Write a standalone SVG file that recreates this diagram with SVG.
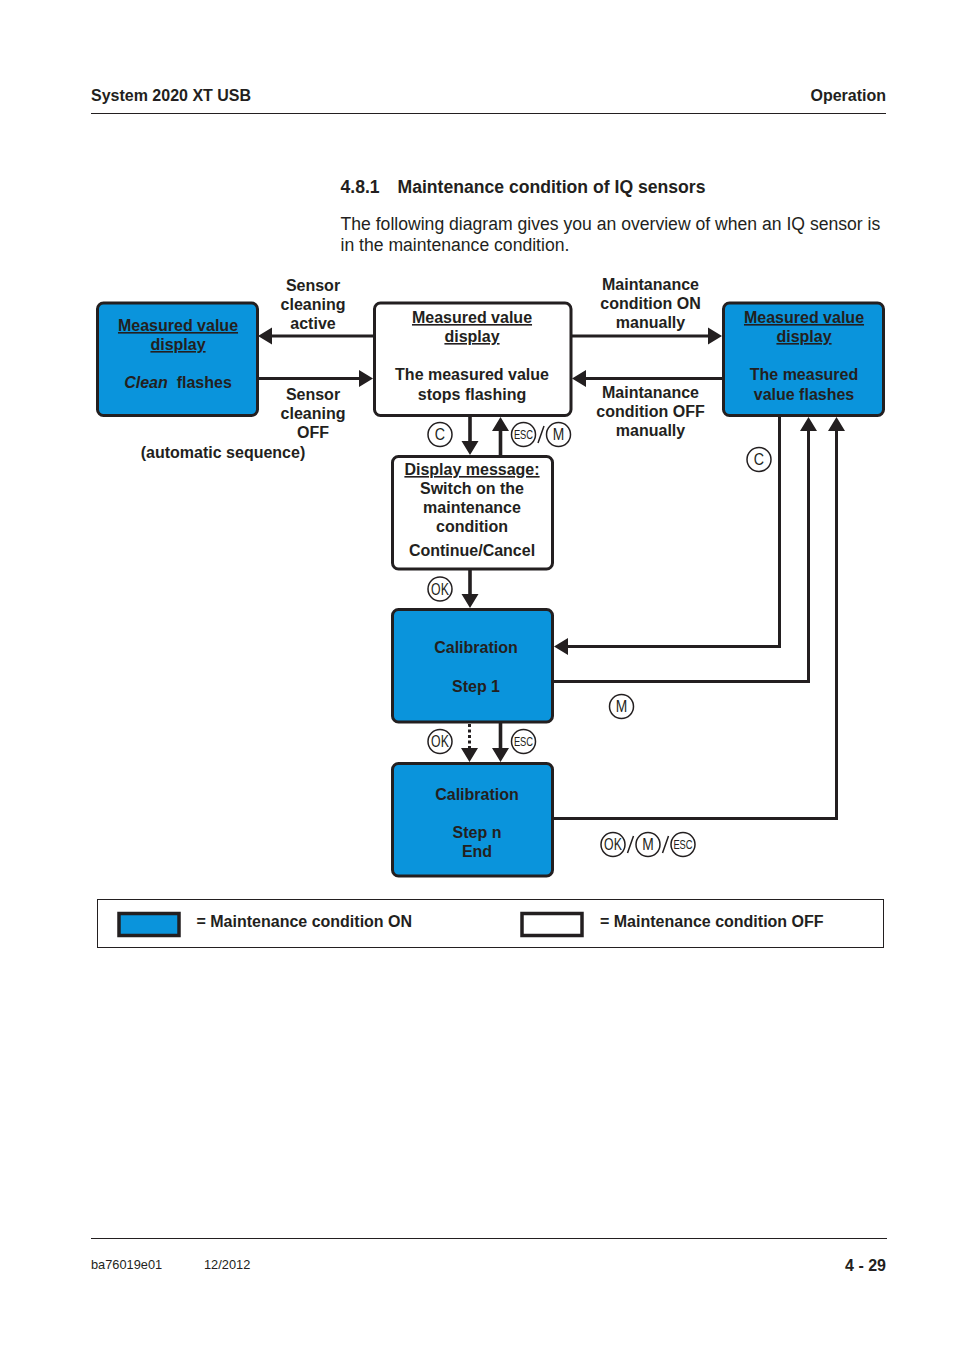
<svg xmlns="http://www.w3.org/2000/svg" width="954" height="1350" viewBox="0 0 954 1350">
<style>
text{font-family:"Liberation Sans",Arial,sans-serif;fill:#231f20}
.b{font-weight:700;font-size:16px}
.m{text-anchor:middle}
.u{text-decoration:underline}
.box{stroke:#231f20;stroke-width:3;}
.sw{stroke:#231f20;stroke-width:3.500}
.on{fill:#0a94dc}.off{fill:#fff}
.c{fill:none;stroke:#231f20;stroke-width:3}
.v{fill:none;stroke:#231f20;stroke-width:3.600}
.h{fill:#231f20}
.k{fill:#fff;stroke:#231f20;stroke-width:1.500}
.kt{font-size:15px;text-anchor:middle;font-weight:400}
.ke{font-size:12px;text-anchor:middle;font-weight:400}
.s{fill:none;stroke:#231f20;stroke-width:1.500}
</style>
<defs>
<g id="kC"><circle class="k" r="12"/><text class="kt" transform="translate(0 5.500) scale(.95 1.15)">C</text></g>
<g id="kM"><circle class="k" r="12"/><text class="kt" transform="translate(0 5.500) scale(.92 1.15)">M</text></g>
<g id="kO"><circle class="k" r="12"/><text class="kt" transform="translate(0 5.500) scale(.82 1.1)">OK</text></g>
<g id="kE"><circle class="k" r="12"/><text class="ke" transform="translate(0 4.500) scale(.78 1.1)">ESC</text></g>
</defs>
<g id="page">
<text x="91" y="101" class="b">System 2020 XT USB</text>
<text x="886" y="101" class="b" text-anchor="end">Operation</text>
<path d="M91 113.500H886M91 1238.500H887" fill="none" stroke="#231f20" stroke-width="1"/>
<text x="340.500" y="193" class="b" style="font-size:17.600px">4.8.1</text>
<text x="397.500" y="193" class="b" style="font-size:17.600px">Maintenance condition of IQ sensors</text>
<text x="340.500" y="230" font-size="17.600">The following diagram gives you an overview of when an IQ sensor is</text>
<text x="340.500" y="251" font-size="17.600">in the maintenance condition.</text>
<text x="91" y="1269" font-size="12.800">ba76019e01</text>
<text x="204" y="1269" font-size="12.800">12/2012</text>
<text x="886" y="1271" class="b" text-anchor="end">4 - 29</text>
</g>
<g id="connectors">
<path class="c" d="M373 336H270M258 378.500H361M572 336H710M722 378.500H585"/>
<path class="v" d="M470 416V442M500.500 455V430M470 570V595M500.500 723V749"/>
<path class="c" d="M779.500 416V646.500H566M554 681.500H808.500V430M554 818.500H836.500V430"/>
<path d="M469.500 724V748" fill="none" stroke="#231f20" stroke-width="3" stroke-dasharray="3 2.500"/>
<path class="h" d="M258 336l14-8.500v17zM373 378.500l-14-8.500v17zM722 336l-14-8.500v17zM572 378.500l14-8.500v17z"/>
<path class="h" d="M470 455l-8.500-14h17zM500.500 417l-8.500 14h17zM470 608l-8.500-14h17zM469.500 762l-8.500-14h17zM500.500 762l-8.500-14h17z"/>
<path class="h" d="M554 646.500l14-8.500v17zM808.500 417l-8.500 14h17zM836.500 417l-8.500 14h17z"/>
</g>
<g id="node-clean">
<rect class="box on" x="97.500" y="303" width="160" height="112.500" rx="6"/>
<text x="178" y="331" class="b m u">Measured value</text>
<text x="178" y="350" class="b m u">display</text>
<text x="178" y="388" class="b m" xml:space="preserve"><tspan font-style="italic">Clean</tspan>  flashes</text>
</g>
<g id="node-stops">
<rect class="box off" x="374.500" y="303" width="196.500" height="112.500" rx="6"/>
<text x="472" y="323" class="b m u">Measured value</text>
<text x="472" y="342" class="b m u">display</text>
<text x="472" y="380" class="b m">The measured value</text>
<text x="472" y="400" class="b m">stops flashing</text>
</g>
<g id="node-flashes">
<rect class="box on" x="723.500" y="303" width="160" height="112.500" rx="6"/>
<text x="804" y="323" class="b m u">Measured value</text>
<text x="804" y="342" class="b m u">display</text>
<text x="804" y="380" class="b m">The measured</text>
<text x="804" y="400" class="b m">value flashes</text>
</g>
<g id="node-message">
<rect class="box off" x="392.500" y="456.500" width="160" height="112.500" rx="6"/>
<text x="472" y="475" class="b m u">Display message:</text>
<text x="472" y="494" class="b m">Switch on the</text>
<text x="472" y="513" class="b m">maintenance</text>
<text x="472" y="532" class="b m">condition</text>
<text x="472" y="556" class="b m">Continue/Cancel</text>
</g>
<g id="node-step1">
<rect class="box on" x="392.500" y="609.500" width="160" height="112.500" rx="6"/>
<text x="476" y="653" class="b m">Calibration</text>
<text x="476" y="692" class="b m">Step 1</text>
</g>
<g id="node-stepn">
<rect class="box on" x="392.500" y="763.500" width="160" height="112.500" rx="6"/>
<text x="477" y="800" class="b m">Calibration</text>
<text x="477" y="838" class="b m">Step n</text>
<text x="477" y="857" class="b m">End</text>
</g>
<g id="labels">
<text x="313" y="291" class="b m">Sensor</text><text x="313" y="310" class="b m">cleaning</text><text x="313" y="329" class="b m">active</text>
<text x="313" y="400" class="b m">Sensor</text><text x="313" y="419" class="b m">cleaning</text><text x="313" y="438" class="b m">OFF</text>
<text x="223" y="458" class="b m">(automatic sequence)</text>
<text x="650.500" y="290" class="b m">Maintanance</text><text x="650.500" y="309" class="b m">condition ON</text><text x="650.500" y="328" class="b m">manually</text>
<text x="650.500" y="398" class="b m">Maintanance</text><text x="650.500" y="417" class="b m">condition OFF</text><text x="650.500" y="436" class="b m">manually</text>
</g>
<g id="keys">
<use href="#kC" x="440" y="434.500"/><use href="#kE" x="523.500" y="434.500"/><use href="#kM" x="558.500" y="434.500"/>
<path class="s" d="M538 443L544 426"/>
<use href="#kC" x="759" y="459.500"/>
<use href="#kO" x="440" y="589"/>
<use href="#kM" x="621.500" y="706.500"/>
<use href="#kO" x="440" y="741.500"/><use href="#kE" x="523.500" y="741.500"/>
<use href="#kO" x="613" y="844.500"/><use href="#kM" x="648" y="844.500"/><use href="#kE" x="683" y="844.500"/>
<path class="s" d="M627.500 853L633.500 836M662.500 853L668.500 836"/>
</g>
<g id="legend">
<rect x="97.500" y="899.500" width="786" height="48" fill="none" stroke="#231f20" stroke-width="1"/>
<rect class="sw on" x="119" y="913.500" width="60" height="22"/>
<text x="196.500" y="927" class="b">= Maintenance condition ON</text>
<rect class="sw off" x="522" y="913.500" width="60" height="22"/>
<text x="600" y="927" class="b">= Maintenance condition OFF</text>
</g>
</svg>
